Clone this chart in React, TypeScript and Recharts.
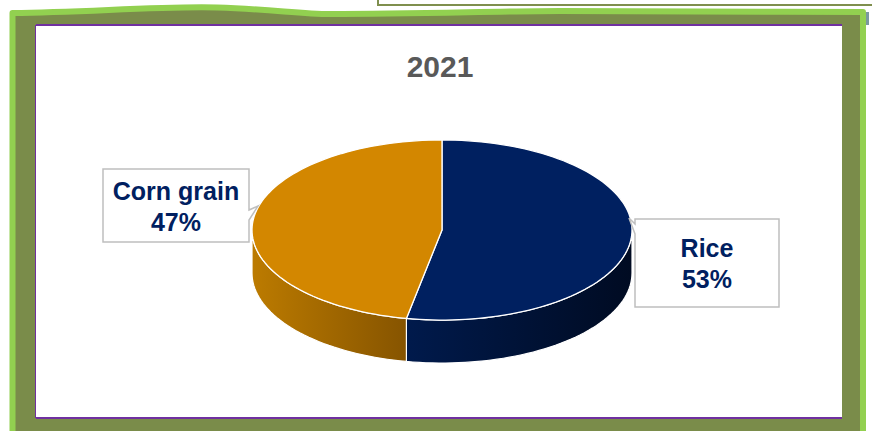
import React from 'react';
import { PieChart, Pie } from 'recharts';

// 2021 share by crop
const categories = ['Rice', 'Corn grain'];
const shares = [53, 47];
const topColors = ['#002060', '#D38700'];
const sideColors = [
  ['#001A4C', '#000B22'],
  ['#BC7B00', '#865400'],
];

const data = categories.map((name, i) => ({ name, value: shares[i] }));

const TILT = 0.474; // vertical squash of the pie disc
const DEPTH = 43; // thickness of the disc
const FONT = '"Liberation Sans", Arial, sans-serif';
const LABEL_COLOR = '#002060';

const ellipsePoint = (cx: number, cy: number, rx: number, a: number, dy = 0): [number, number] => {
  const r = (a * Math.PI) / 180;
  return [cx + rx * Math.cos(r), cy - rx * TILT * Math.sin(r) + dy];
};

const arcPoints = (cx: number, cy: number, rx: number, from: number, to: number, dy = 0) => {
  const steps = Math.max(2, Math.ceil(Math.abs(to - from) / 2));
  const pts: [number, number][] = [];
  for (let i = 0; i <= steps; i++) {
    const a = from + ((to - from) * i) / steps;
    pts.push(ellipsePoint(cx, cy, rx, a, dy));
  }
  return pts;
};

const toPath = (pts: [number, number][]) =>
  pts.map((p, i) => `${i ? 'L' : 'M'}${p[0].toFixed(2)},${p[1].toFixed(2)}`).join(' ');

const Slice3D = (props: any) => {
  const { cx, cy, outerRadius, startAngle, endAngle, index } = props;
  const lo = Math.min(startAngle, endAngle);
  const hi = Math.max(startAngle, endAngle);
  // front half of the rim is where sin(angle) < 0
  const sides: [number, number][] = [];
  for (let k = -2; k <= 2; k++) {
    const p = Math.max(lo, 180 + 360 * k);
    const q = Math.min(hi, 360 + 360 * k);
    if (q > p) sides.push([p, q]);
  }
  const gid = `side-grad-${index}`;
  const top = arcPoints(cx, cy, outerRadius, startAngle, endAngle);
  return (
    <g>
      <defs>
        <linearGradient id={gid} x1="0" y1="0" x2="1" y2="0">
          <stop offset="0%" stopColor={sideColors[index][0]} />
          <stop offset="100%" stopColor={sideColors[index][1]} />
        </linearGradient>
      </defs>
      {sides.map(([p, q], i) => {
        const upper = arcPoints(cx, cy, outerRadius, p, q);
        const lower = arcPoints(cx, cy, outerRadius, q, p, DEPTH);
        return (
          <path
            key={i}
            d={toPath([...upper, ...lower]) + ' Z'}
            fill={`url(#${gid})`}
            stroke="#ffffff"
            strokeWidth={1.2}
          />
        );
      })}
      <path
        d={`M${cx},${cy} ` + toPath(top).replace(/^M/, 'L') + ' Z'}
        fill={topColors[index]}
        stroke="#ffffff"
        strokeWidth={1.3}
        strokeLinejoin="round"
      />
    </g>
  );
};

const renderLabel = (props: any) => {
  const { cx, cy, midAngle, name, percent } = props;
  const right = Math.cos((midAngle * Math.PI) / 180) > 0;
  const box = right
    ? { x: cx + 193, y: cy - 11, w: 144, h: 88 }
    : { x: cx - 339, y: cy - 61, w: 146, h: 73 };
  let d: string;
  if (right) {
    const tx = cx + 187, ty = cy - 12;
    d = `M${box.x},${box.y} H${box.x + box.w} V${box.y + box.h} H${box.x} V${cy + 4} L${tx},${ty} L${box.x},${cy - 6} Z`;
  } else {
    const tx = cx - 184, ty = cy - 24;
    const ex = box.x + box.w;
    d = `M${box.x},${box.y} H${ex} V${cy - 20} L${tx},${ty} L${ex},${cy - 10} V${box.y + box.h} H${box.x} Z`;
  }
  const mid = box.x + box.w / 2;
  const c = box.y + box.h / 2;
  return (
    <g>
      <path d={d} fill="#ffffff" stroke="#BFBFBF" strokeWidth={1.5} />
      <text x={mid} y={c - 6} textAnchor="middle" fontFamily={FONT} fontWeight="bold" fontSize={25} fill={LABEL_COLOR}>
        {name}
      </text>
      <text x={mid} y={c + 25} textAnchor="middle" fontFamily={FONT} fontWeight="bold" fontSize={25} fill={LABEL_COLOR}>
        {`${Math.round(percent * 100)}%`}
      </text>
    </g>
  );
};

const Frame = () => (
  <svg width={872} height={431} style={{ position: 'absolute', left: 0, top: 0 }}>
    <rect x={0} y={0} width={872} height={431} fill="#ffffff" />
    {/* edge of the shape behind */}
    <path d="M378,0 V5 H872" fill="none" stroke="#7F8F4E" strokeWidth={2} />
    {/* olive border */}
    <path
      d="M14,14 C90,12 160,7 217,8 C270,9 300,15 330,15 C420,15 500,12 560,12 C650,12 760,13 862,13 L862,431 L14,431 Z"
      fill="#7A8C4A"
    />
    {/* light green wavy outline */}
    <path
      d="M12.5,431 L12.5,13 C90,12 160,6 217,7.5 C270,9 300,14 330,14 C420,14 500,11 560,11 C650,11 760,12 863,12 L863,431"
      fill="none"
      stroke="#92D050"
      strokeWidth={6}
      strokeLinejoin="round"
    />
    <rect x={866} y={12} width={3} height={13} fill="#7A98A0" />
    {/* white plot panel */}
    <rect x={36} y={25} width={806} height={393} fill="#ffffff" />
    <line x1={36} y1={25} x2={842} y2={25} stroke="#7030A0" strokeWidth={2} />
    <line x1={36} y1={418} x2={842} y2={418} stroke="#7030A0" strokeWidth={2} />
    <line x1={35.5} y1={25} x2={35.5} y2={418} stroke="#7030A0" strokeWidth={1} />
    <text x={440} y={77} textAnchor="middle" fontFamily={FONT} fontWeight="bold" fontSize={30} fill="#595959">
      2021
    </text>
  </svg>
);

export default function App() {
  return (
    <div style={{ position: 'absolute', left: 0, top: 0, width: 872, height: 431 }}>
      <Frame />
      <div style={{ position: 'absolute', left: 0, top: 0 }}>
        <PieChart width={872} height={431} margin={{ top: 0, right: 0, bottom: 0, left: 0 }}>
          <Pie
            data={data}
            dataKey="value"
            nameKey="name"
            cx={442}
            cy={230}
            outerRadius={190}
            startAngle={90}
            endAngle={-270}
            shape={Slice3D}
            label={renderLabel}
            labelLine={false}
            isAnimationActive={false}
          />
        </PieChart>
      </div>
    </div>
  );
}
